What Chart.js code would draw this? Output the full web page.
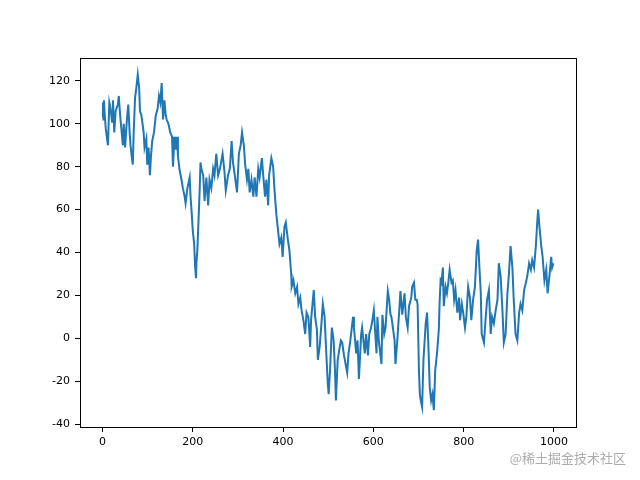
<!DOCTYPE html>
<html lang="en">

<head>
    <meta charset="UTF-8">
    <title>Random walk</title>
    <script src="https://cdn.jsdelivr.net/npm/chart.js"></script>
    <style>
        body { margin: 0; background: #ffffff; }
        canvas { display: block; }
    </style>
</head>

<body>
    <canvas id="myChartCanvas1" width="640" height="480"></canvas>

    <script>
        // steps (x) and values (y)
        const passos = [0, 1, 2, 3, 5, 7, 10, 12, 15, 18, 21, 23, 26, 29, 34, 36, 39, 42, 45, 47,
            50, 54, 57, 60, 62, 65, 67, 69, 72, 75, 78, 81, 83, 86, 88, 91, 93, 97, 99, 102,
            105, 107, 110, 114, 118, 122, 125, 128, 131, 134, 137, 140, 142, 146, 150, 154, 156, 158, 160, 163,
            165, 167, 171, 174, 178, 182, 184, 188, 193, 195, 197, 200, 203, 205, 207, 208, 210, 213, 215, 217,
            219, 223, 226, 230, 234, 237, 241, 245, 248, 252, 256, 260, 266, 270, 273, 278, 282, 286, 289, 293,
            298, 302, 306, 309, 313, 316, 320, 323, 326, 330, 334, 337, 341, 345, 348, 353, 356, 360, 363, 367,
            369, 374, 378, 381, 385, 388, 392, 396, 399, 403, 406, 410, 414, 418, 419, 423, 427, 431, 434, 438,
            441, 445, 449, 452, 456, 460, 462, 466, 468, 471, 475, 477, 481, 485, 488, 492, 495, 499, 501, 504,
            508, 512, 515, 517, 521, 524, 528, 531, 535, 542, 545, 549, 555, 557, 562, 565, 568, 573, 575, 581,
            584, 588, 591, 595, 599, 601, 607, 609, 612, 618, 620, 624, 627, 632, 635, 638, 640, 647, 649, 653,
            658, 660, 664, 669, 672, 676, 679, 684, 686, 690, 693, 696, 698, 701, 703, 705, 708, 711, 716, 719,
            722, 725, 728, 731, 734, 737, 741, 745, 747, 749, 751, 754, 756, 760, 763, 766, 769, 773, 776, 779,
            782, 786, 790, 792, 796, 799, 803, 806, 810, 814, 817, 821, 825, 829, 832, 835, 838, 840, 845, 849,
            852, 856, 860, 863, 867, 871, 875, 878, 882, 886, 889, 893, 897, 900, 904, 908, 911, 915, 919, 923,
            926, 930, 934, 938, 941, 945, 949, 952, 956, 960, 963, 965, 968, 972, 975, 979, 983, 986, 990, 994,
            996, 999];

        const valores = [103, 110, 102, 111, 104, 98, 93, 90, 110, 107, 101, 111, 96, 106, 109, 113, 104, 97, 90, 100,
            89, 102, 109, 96, 90, 84, 81, 96, 112, 117, 123, 117, 106, 104, 101, 96, 89, 93, 81, 89,
            76, 84, 92, 96, 104, 107, 113, 110, 119, 102, 111, 104, 102, 100, 96, 94, 80, 88, 94, 88,
            94, 85, 78, 75, 70, 66, 63, 70, 75, 66, 60, 50, 44, 34, 28, 35, 41, 57, 68, 82,
            79, 76, 64, 75, 62, 74, 70, 79, 76, 86, 76, 79, 86, 78, 69, 76, 79, 92, 82, 76,
            68, 86, 90, 96, 90, 81, 74, 79, 68, 74, 66, 75, 66, 79, 75, 84, 76, 66, 74, 62,
            76, 84, 80, 69, 58, 52, 44, 47, 38, 52, 54, 47, 41, 30, 24, 27, 21, 24, 16, 19,
            13, 8.5, 2, 12, 10, -4, 8.5, 18, 22.5, 10, 4, -10, -4, 7, 16, 10, -4, -21, -26, -15,
            5, -1, -15, -29, -10, -6, -1, -2, -8, -16, -7, -1, 10, 5, -7, -1, -19, 2, 5, -7,
            2, -8, 2, 5, 10, 13, -7, 10, -1, -12, 11, 2, 5, 22, 18, 11, 10, -1, -12, -1,
            15, 22, 11, 21, 10, 5, 15, 19, 24, 26, 18, 18, 16, -15, -26, -29, -32, -10, 7, 12,
            -4, -23, -29, -26, -33.5, -15, -7, 4, 18, 27, 26, 33, 15, 24, 21, 26, 32, 26, 27, 18,
            22.5, 12, 19, 8.5, 16, 12, 5, 10, 24, 19, 8.5, 18, 24, 41, 46, 33, 21, 2, -2, 10,
            18, 22.5, 2, 10, 7, 13, 18, 35, 29, 13, -2, 2, 21, 29, 43, 33, 18, 2, -1, 12,
            16, 13, 22.5, 26, 29, 35, 32, 36.5, 33, 43, 54, 60, 52, 43, 38, 27, 32, 21, 29, 38,
            33, 35];

        const ticksX = [0, 200, 400, 600, 800, 1000];
        const ticksY = [-40, -20, 0, 20, 40, 60, 80, 100, 120];

        const pontos = passos.map((p, i) => ({ x: p, y: valores[i] }));

        // moldura completa (topo e direita tambem)
        const moldura = {
            id: 'moldura',
            afterDraw(chart) {
                const c = chart.ctx;
                const a = chart.chartArea;
                c.save();
                c.strokeStyle = '#000000';
                c.lineWidth = 1;
                c.strokeRect(Math.round(a.left) + 0.5, Math.round(a.top) + 0.5,
                    Math.round(a.right - a.left), Math.round(a.bottom - a.top));
                // marca d'agua
                c.font = '13px "Noto Sans CJK SC", sans-serif';
                c.textAlign = 'right';
                c.textBaseline = 'middle';
                c.fillStyle = 'rgba(150,150,150,0.8)';
                c.fillText('@稀土掘金技术社区', 626, 458);
                c.restore();
            }
        };

        const config = {
            type: 'line',
            data: {
                datasets: [{
                    data: pontos,
                    borderColor: '#1f77b4',
                    borderWidth: 2,
                    pointRadius: 0,
                    fill: false,
                    tension: 0
                }]
            },
            options: {
                responsive: false,
                animation: false,
                layout: { padding: { left: 0, right: 64, top: 58, bottom: 0 } },
                plugins: {
                    legend: { display: false },
                    tooltip: { enabled: false }
                },
                scales: {
                    x: {
                        type: 'linear',
                        min: -49.95,
                        max: 1048.95,
                        afterFit: (s) => { s.height = 53; },
                        afterBuildTicks: (s) => { s.ticks = ticksX.map(v => ({ value: v })); },
                        ticks: {
                            color: '#000000',
                            font: { family: 'DejaVu Sans', size: 11 },
                            padding: 4,
                            maxRotation: 0,
                            callback: (v) => String(v)
                        },
                        grid: { drawOnChartArea: false, drawTicks: true, tickLength: 5, color: '#000000' },
                        border: { display: true, color: '#000000' }
                    },
                    y: {
                        type: 'linear',
                        min: -41.35,
                        max: 130.7,
                        afterFit: (s) => { s.width = 80; },
                        afterBuildTicks: (s) => { s.ticks = ticksY.map(v => ({ value: v })); },
                        ticks: {
                            color: '#000000',
                            font: { family: 'DejaVu Sans', size: 11 },
                            padding: 5,
                            callback: (v) => String(v)
                        },
                        grid: { drawOnChartArea: false, drawTicks: true, tickLength: 5, color: '#000000' },
                        border: { display: true, color: '#000000' }
                    }
                }
            },
            plugins: [moldura]
        };

        const ctx = document.getElementById('myChartCanvas1').getContext('2d');
        new Chart(ctx, config);
    </script>
</body>

</html>
